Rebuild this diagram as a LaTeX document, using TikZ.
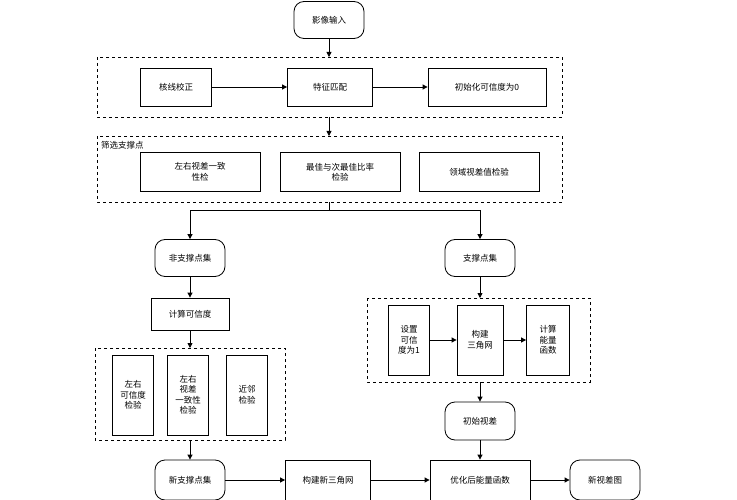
\documentclass[tikz,border=0pt]{standalone}
\usepackage{fontspec}
\setmainfont{Liberation Serif}
\newfontfamily\cjk{Noto Sans CJK SC}
\usetikzlibrary{arrows.meta}
\begin{document}
\begin{tikzpicture}[x=1pt,y=-1pt,
 every node/.style={font=\cjk\fontsize{8.5}{10.5}\selectfont,align=center,inner sep=1pt},
 box/.style={draw,thick,minimum width=#1,minimum height=38},
 rbox/.style={draw,thick,rounded corners=10,minimum width=70,minimum height=37},
 vbox/.style={draw,thick,minimum width=41,minimum height=#1},
 grp/.style={draw,dashed,thick},
 arr/.style={-{Triangle[length=5,width=5]},thick}]
\useasboundingbox (0,0) rectangle (737,500);
\node[rbox] (in) at (329,20) {影像输入};
\draw[grp] (97,57) rectangle (562,117);
\coordinate (b1t) at (329,57); \coordinate (b1b) at (329,117);
\node[box=71] (hx) at (176,87) {核线校正};
\node[box=85] (tz) at (330,87) {特征匹配};
\node[box=118] (cs) at (487,87) {初始化可信度为0};
\draw[grp] (97,136) rectangle (562,202);
\coordinate (b2t) at (329,136); \coordinate (b2b) at (329,202);
\node[anchor=west] (sx) at (100,145) {筛选支撑点};
\node[box=120,minimum height=39] (z1) at (200,172) {左右视差一致\\性检};
\node[box=120,minimum height=39] (z2) at (340,172) {最佳与次最佳比率\\检验};
\node[box=120,minimum height=39] (z3) at (479,172) {领域视差值检验};
\node[rbox] (fz) at (190,258) {非支撑点集};
\node[rbox] (zc) at (480,258) {支撑点集};
\node[box=78,minimum height=32] (js) at (190,314) {计算可信度};
\draw[grp] (95,348) rectangle (285,440);
\coordinate (b3t) at (190,348); \coordinate (b3b) at (190,440);
\node[vbox=80] (v1) at (133,395) {左右\\可信度\\检验};
\node[vbox=80] (v2) at (188,395) {左右\\视差\\一致性\\检验};
\node[vbox=80] (v3) at (247,395) {近邻\\检验};
\draw[grp] (367,298) rectangle (590,382);
\coordinate (b4t) at (480,298); \coordinate (b4b) at (480,382);
\node[vbox=70] (s1) at (409,340) {设置\\可信\\度为1};
\node[vbox=70,minimum width=46] (s2) at (480,340) {构建\\三角网};
\node[vbox=70,minimum width=43] (s3) at (548,340) {计算\\能量\\函数};
\node[rbox,minimum height=38] (cssc) at (480,421) {初始视差};
\node[rbox,minimum height=40] (xz) at (190,480) {新支撑点集};
\node[box=85,minimum height=40] (gj) at (328,480) {构建新三角网};
\node[box=100,minimum height=40] (yh) at (480,480) {优化后能量函数};
\node[rbox,minimum height=40] (xs) at (605,480) {新视差图};
\draw[arr] (in) -- (b1t);
\draw[arr] (hx) -- (tz);
\draw[arr] (tz) -- (cs);
\draw[arr] (b1b) -- (b2t);
\coordinate (m) at (329,210);
\draw[thick] (b2b) -- (m);
\draw[arr] (m) -| (fz.north);
\draw[arr] (m) -| (zc.north);
\draw[arr] (fz) -- (js);
\draw[arr] (js) -- (b3t);
\draw[arr] (b3b) -- (xz);
\draw[arr] (zc) -- (b4t);
\draw[arr] (s1) -- (s2);
\draw[arr] (s2) -- (s3);
\draw[arr] (b4b) -- (cssc);
\draw[arr] (cssc) -- (yh);
\draw[arr] (xz) -- (gj);
\draw[arr] (gj) -- (yh);
\draw[arr] (yh) -- (xs);
\end{tikzpicture}
\end{document}
